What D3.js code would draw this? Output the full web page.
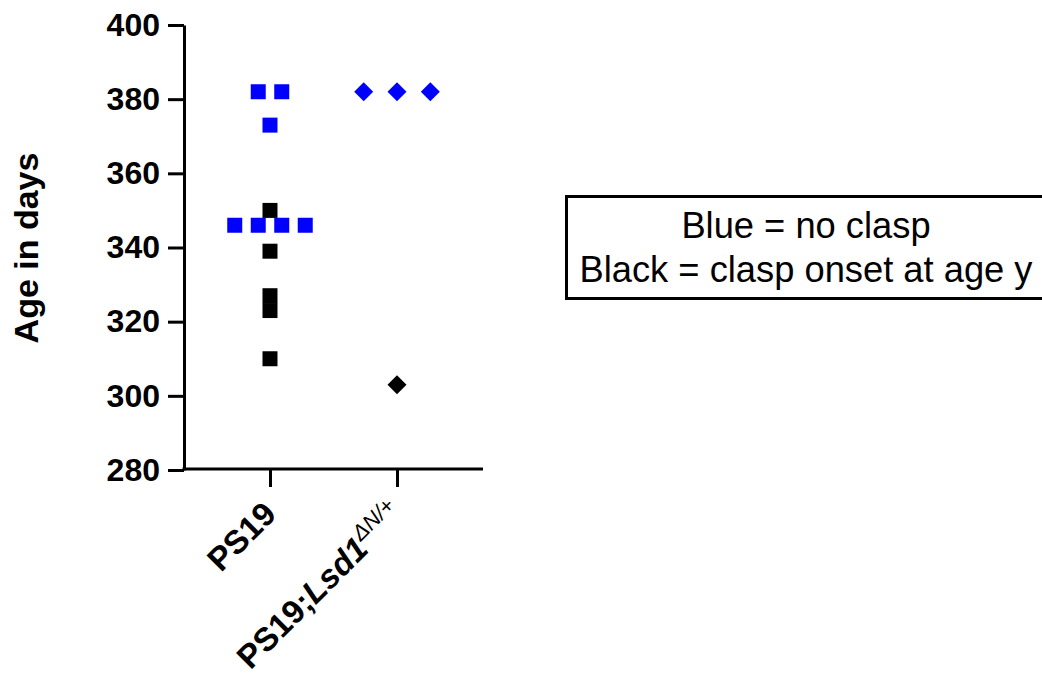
<html>
<script src='https://d3js.org/d3.v7.min.js'></script>
<style>
body {margin: 0; background: white;}
text {font-family: 'Liberation Sans', Arial, sans-serif;}
</style>
<body onload='init()'>
<svg width=1042 height=679></svg>
<script>
// groups on the x axis
var groups = ["PS19", "PS19;Lsd1"]
var yTicks = [280, 300, 320, 340, 360, 380, 400]
// ages (days) and their column slot in the scatter
var ps19Blue = [382, 382, 373, 346, 346, 346, 346]
var ps19BlueSlot = [-0.5, 0.5, 0, -1.5, -0.5, 0.5, 1.5]
var ps19Black = [350, 339, 327, 323, 310]
var lsdBlue = [382, 382, 382]
var lsdBlueSlot = [-1, 0, 1]
var lsdBlack = [303]
var legendLines = ["Blue = no clasp", "Black = clasp onset at age y"]

function init() {
  var svg = d3.select("svg")
  var x = d3.scalePoint().domain(groups).range([184, 483]).padding(0.677)
  var y = d3.scaleLinear().domain([280, 400]).range([470, 25])

  // y axis
  var ya = svg.append("g").attr("transform", "translate(184,0)")
    .call(d3.axisLeft(y).tickValues(yTicks).tickSize(16).tickPadding(8).tickSizeOuter(0))
  ya.selectAll("path,line").attr("stroke", "black").attr("stroke-width", 3)
  ya.selectAll("text").attr("font-size", 32).attr("font-weight", "bold").attr("fill", "black")
    .attr("font-family", "Liberation Sans, Arial, sans-serif")

  // x axis
  var xa = svg.append("g").attr("transform", "translate(0,469)")
    .call(d3.axisBottom(x).tickSize(18).tickSizeOuter(0).tickFormat(""))
  xa.select("path").attr("d", "M182.5,0H483")
  xa.selectAll("path,line").attr("stroke", "black").attr("stroke-width", 3)

  // rotated x labels
  groups.forEach(function(g, i) {
    var t = svg.append("text")
      .attr("text-anchor", "end")
      .attr("font-size", 33).attr("font-weight", "bold")
      .attr("transform", "translate(" + (x(g) + 8) + ",516) rotate(-45)")
    if (i == 0) {
      t.text("PS19")
    } else {
      t.append("tspan").text("PS19;")
      t.append("tspan").attr("font-style", "italic").text("Lsd1")
      t.append("tspan").attr("font-style", "italic").attr("font-weight", "normal")
        .attr("font-size", 22).attr("dy", -13).text("\u0394N/+")
    }
  })

  // y label
  svg.append("text")
    .attr("transform", "translate(38,248) rotate(-90)")
    .attr("text-anchor", "middle")
    .attr("font-size", 34).attr("font-weight", "bold")
    .text("Age in days")

  var sq = d3.symbol().type(d3.symbolSquare).size(225)
  var dm = d3.symbol().type(d3.symbolSquare).size(180)
  var sqSlot = 23.5, dmSlot = 33.3

  svg.append("g").selectAll("path").data(ps19Black).enter().append("path")
    .attr("d", sq).attr("fill", "black")
    .attr("transform", function(d) { return "translate(" + x(groups[0]) + "," + y(d) + ")" })
  svg.append("g").selectAll("path").data(ps19Blue).enter().append("path")
    .attr("d", sq).attr("fill", "#0000ff")
    .attr("transform", function(d, i) { return "translate(" + (x(groups[0]) + ps19BlueSlot[i] * sqSlot) + "," + y(d) + ")" })
  svg.append("g").selectAll("path").data(lsdBlack).enter().append("path")
    .attr("d", dm).attr("fill", "black")
    .attr("transform", function(d) { return "translate(" + x(groups[1]) + "," + y(d) + ") rotate(45)" })
  svg.append("g").selectAll("path").data(lsdBlue).enter().append("path")
    .attr("d", dm).attr("fill", "#0000ff")
    .attr("transform", function(d, i) { return "translate(" + (x(groups[1]) + lsdBlueSlot[i] * dmSlot) + "," + y(d) + ") rotate(45)" })

  // legend box
  svg.append("rect").attr("x", 566.5).attr("y", 196.5).attr("width", 480).attr("height", 102)
    .attr("fill", "white").attr("stroke", "black").attr("stroke-width", 3)
  svg.append("g").selectAll("text").data(legendLines).enter().append("text")
    .attr("x", 806).attr("y", function(d, i) { return 238 + i * 44 })
    .attr("text-anchor", "middle").attr("font-size", 36.3)
    .text(function(d) { return d })
}
</script>
</body>
</html>
